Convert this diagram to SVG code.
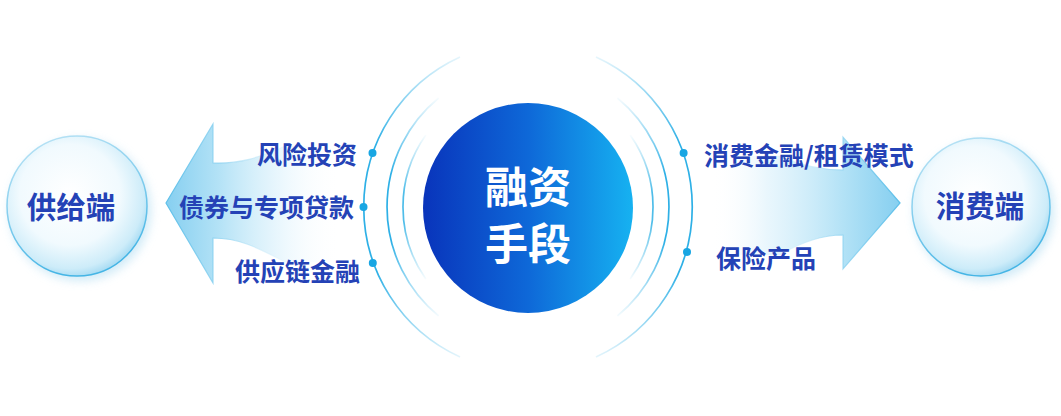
<svg xmlns="http://www.w3.org/2000/svg" width="1061" height="416" viewBox="0 0 1061 416">
  <style>
    .lbl { font-family: "Noto Sans CJK SC", "Noto Sans", sans-serif; font-weight: 700; font-size: 25px; fill: #2442b6; }
    .bub { font-family: "Noto Sans CJK SC", "Noto Sans", sans-serif; font-weight: 700; font-size: 29.5px; fill: #2442b6; }
    .ctr { font-family: "Noto Sans CJK SC", "Noto Sans", sans-serif; font-weight: 700; font-size: 43px; fill: #ffffff; }
    .dot { fill: #18a6e3; }
    .arc { fill: none; stroke-width: 1.7; }
  </style>
  <defs>
    <linearGradient id="gCenter" x1="0" y1="0" x2="1" y2="0">
      <stop offset="0" stop-color="#0934bb"/>
      <stop offset="0.5" stop-color="#0e68d8"/>
      <stop offset="1" stop-color="#16b2f1"/>
    </linearGradient>
    <radialGradient id="gBubble" cx="0.45" cy="0.42" r="0.6">
      <stop offset="0" stop-color="#ffffff"/>
      <stop offset="0.6" stop-color="#f1fafe"/>
      <stop offset="0.88" stop-color="#cdecf9"/>
      <stop offset="1" stop-color="#a2d9f2"/>
    </radialGradient>
    <linearGradient id="gBubbleStroke" x1="0" y1="0" x2="0.3" y2="1">
      <stop offset="0" stop-color="#9ad6f0" stop-opacity="0.6"/>
      <stop offset="1" stop-color="#45b5e5"/>
    </linearGradient>
    <filter id="fGlow" x="-30%" y="-30%" width="160%" height="160%">
      <feGaussianBlur stdDeviation="5"/>
    </filter>
    <linearGradient id="gArcOuter" gradientUnits="userSpaceOnUse" x1="0" y1="45" x2="0" y2="370">
      <stop offset="0" stop-color="#2eb0e6" stop-opacity="0"/>
      <stop offset="0.3" stop-color="#2eb0e6"/>
      <stop offset="0.7" stop-color="#2eb0e6"/>
      <stop offset="1" stop-color="#2eb0e6" stop-opacity="0"/>
    </linearGradient>
    <linearGradient id="gArcMid" gradientUnits="userSpaceOnUse" x1="0" y1="95" x2="0" y2="320">
      <stop offset="0" stop-color="#2eb0e6" stop-opacity="0"/>
      <stop offset="0.35" stop-color="#2eb0e6"/>
      <stop offset="0.65" stop-color="#2eb0e6"/>
      <stop offset="1" stop-color="#2eb0e6" stop-opacity="0"/>
    </linearGradient>
    <linearGradient id="gArcIn" gradientUnits="userSpaceOnUse" x1="0" y1="133" x2="0" y2="282">
      <stop offset="0" stop-color="#4fbde9" stop-opacity="0"/>
      <stop offset="0.4" stop-color="#4fbde9"/>
      <stop offset="0.6" stop-color="#4fbde9"/>
      <stop offset="1" stop-color="#4fbde9" stop-opacity="0"/>
    </linearGradient>
    <linearGradient id="gArrowL" gradientUnits="userSpaceOnUse" x1="166" y1="0" x2="340" y2="0">
      <stop offset="0" stop-color="#86cff0"/>
      <stop offset="0.3" stop-color="#b3e2f6"/>
      <stop offset="0.65" stop-color="#e0f3fc" stop-opacity="0.7"/>
      <stop offset="1" stop-color="#ffffff" stop-opacity="0"/>
    </linearGradient>
    <linearGradient id="gArrowLStroke" gradientUnits="userSpaceOnUse" x1="166" y1="0" x2="320" y2="0">
      <stop offset="0" stop-color="#5cbfe9"/>
      <stop offset="0.4" stop-color="#8fd3f1" stop-opacity="0.7"/>
      <stop offset="1" stop-color="#ffffff" stop-opacity="0"/>
    </linearGradient>
    <linearGradient id="gArrowR" gradientUnits="userSpaceOnUse" x1="900" y1="0" x2="710" y2="0">
      <stop offset="0" stop-color="#86cff0"/>
      <stop offset="0.3" stop-color="#b3e2f6"/>
      <stop offset="0.7" stop-color="#e0f3fc" stop-opacity="0.7"/>
      <stop offset="1" stop-color="#ffffff" stop-opacity="0"/>
    </linearGradient>
    <linearGradient id="gArrowRStroke" gradientUnits="userSpaceOnUse" x1="900" y1="0" x2="740" y2="0">
      <stop offset="0" stop-color="#5cbfe9"/>
      <stop offset="0.4" stop-color="#8fd3f1" stop-opacity="0.7"/>
      <stop offset="1" stop-color="#ffffff" stop-opacity="0"/>
    </linearGradient>
  </defs>

  <rect width="1061" height="416" fill="#ffffff"/>

  <g id="connectors">
    <path id="arrow-left" d="M166 203 L213 124 L213 163 C240 164 258 158 285 146 L345 146 L345 262 L285 262 C258 248 240 238 213 238 L213 283 Z" fill="url(#gArrowL)" stroke="url(#gArrowLStroke)" stroke-width="1.2"/>
    <path id="arrow-right" d="M900 203 L843 137 L843 170 C820 170 800 165 780 156 L705 156 L705 255 L780 255 C800 243 820 235 843 235 L843 269 Z" fill="url(#gArrowR)" stroke="url(#gArrowRStroke)" stroke-width="1.2"/>
  </g>

  <g id="rings">
    <path class="arc" d="M460 57 A165 165 0 0 0 460 357" stroke="url(#gArcOuter)"/>
    <path class="arc" d="M438.6 98 A141 141 0 0 0 438.6 316" stroke="url(#gArcMid)"/>
    <path class="arc" d="M425.8 135 A125 125 0 0 0 425.8 279" stroke="url(#gArcIn)" stroke-width="4.5"/>
    <path class="arc" d="M596 57 A165 165 0 0 1 596 357" stroke="url(#gArcOuter)"/>
    <path class="arc" d="M617.4 98 A141 141 0 0 1 617.4 316" stroke="url(#gArcMid)"/>
    <path class="arc" d="M630.2 135 A125 125 0 0 1 630.2 279" stroke="url(#gArcIn)" stroke-width="4.5"/>
    <circle class="dot" cx="372.5" cy="153" r="4"/>
    <circle class="dot" cx="363.5" cy="207" r="4"/>
    <circle class="dot" cx="372.8" cy="263" r="4"/>
    <circle class="dot" cx="683.6" cy="153" r="4"/>
    <circle class="dot" cx="687" cy="252" r="4"/>
  </g>

  <g id="node-center">
    <circle cx="528" cy="208" r="105" fill="url(#gCenter)"/>
    <text class="ctr" text-anchor="middle"><tspan x="528" y="203">融资</tspan><tspan x="528" y="260">手段</tspan></text>
  </g>

  <g id="node-supply">
    <circle cx="80" cy="210" r="71" fill="#bfe3f4" filter="url(#fGlow)" opacity="0.7"/>
    <circle cx="77" cy="206" r="70" fill="url(#gBubble)" stroke="url(#gBubbleStroke)" stroke-width="1.5"/>
    <text class="bub" x="71" y="218" text-anchor="middle">供给端</text>
  </g>

  <g id="node-consumer">
    <circle cx="984" cy="211" r="70" fill="#bfe3f4" filter="url(#fGlow)" opacity="0.7"/>
    <circle cx="981" cy="207" r="69" fill="url(#gBubble)" stroke="url(#gBubbleStroke)" stroke-width="1.5"/>
    <text class="bub" x="980" y="217" text-anchor="middle">消费端</text>
  </g>

  <g id="label-venture"><text class="lbl" x="357" y="164" text-anchor="end">风险投资</text></g>
  <g id="label-bonds"><text class="lbl" x="354" y="217" text-anchor="end">债券与专项贷款</text></g>
  <g id="label-supplychain"><text class="lbl" x="360" y="281" text-anchor="end">供应链金融</text></g>
  <g id="label-consumerfin"><text class="lbl" x="704" y="165">消费金融/租赁模式</text></g>
  <g id="label-insurance"><text class="lbl" x="716" y="268">保险产品</text></g>
</svg>
